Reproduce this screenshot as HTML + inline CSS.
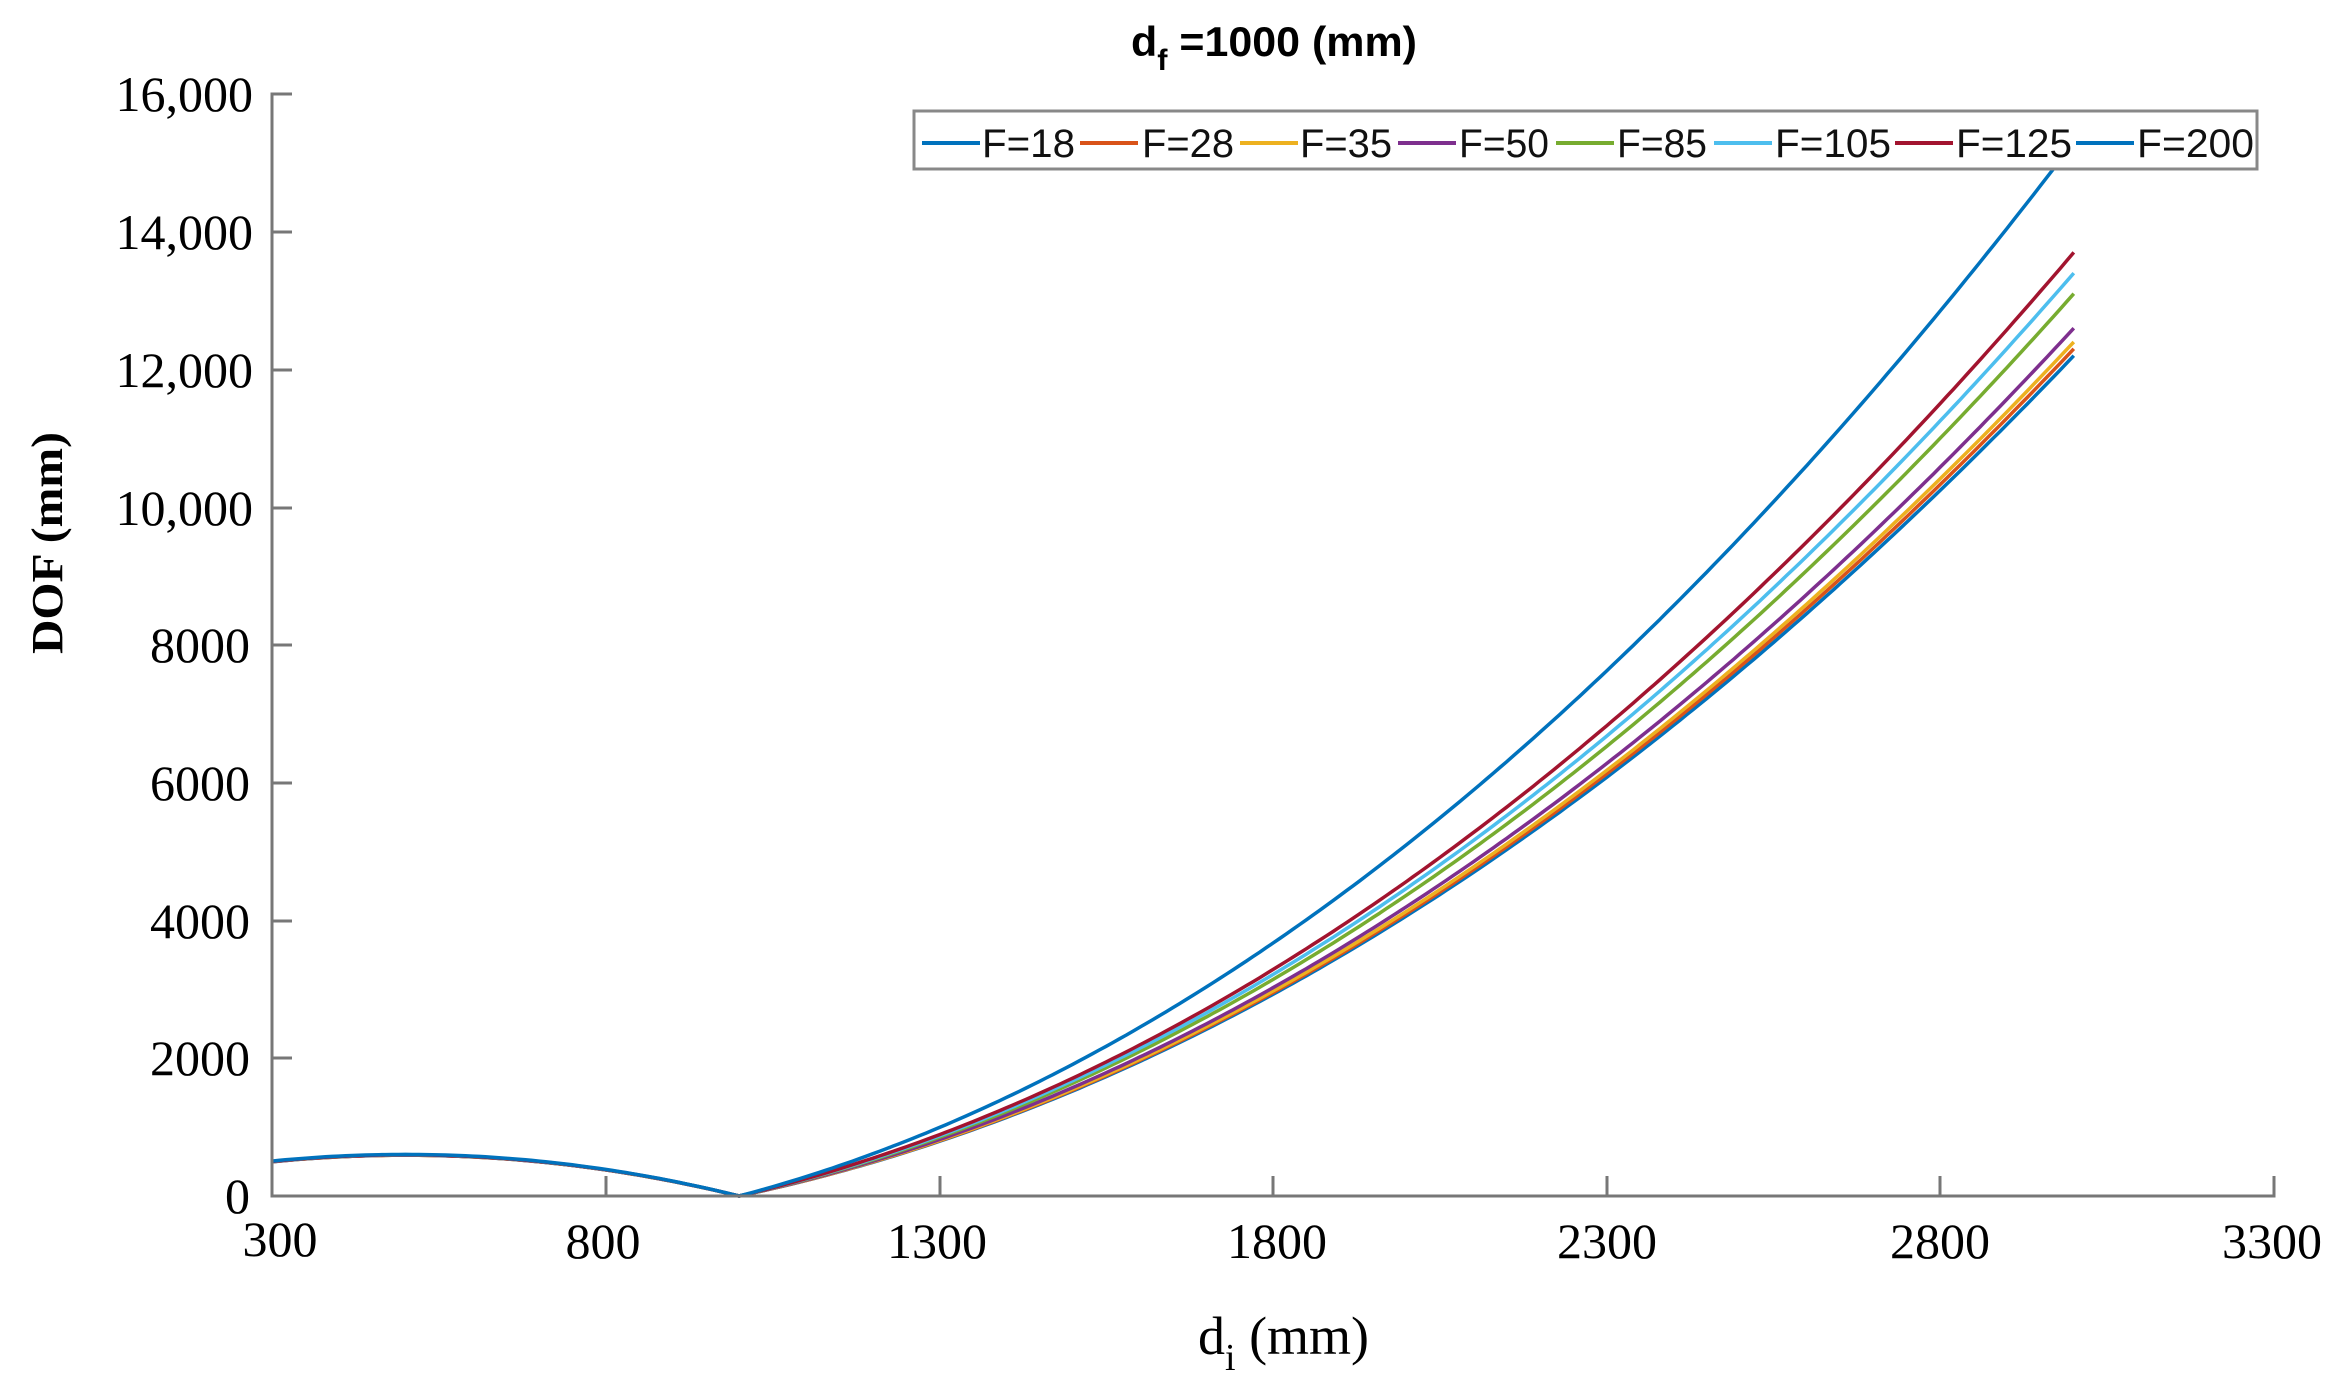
<!DOCTYPE html>
<html><head><meta charset="utf-8"><style>
html,body{margin:0;padding:0;background:#fff;width:2333px;height:1385px;overflow:hidden}
svg{display:block}
</style></head><body>
<svg id="s" width="2333" height="1385" xmlns="http://www.w3.org/2000/svg">
<g id="curves" fill="none" stroke-width="3.5" stroke-linejoin="round"></g>
<g stroke="#777" stroke-width="3" fill="none">
<path d="M292,94 H272 V1196 H2274 V1176"/>
<path d="M272,232 H292 M272,370 H292 M272,508 H292 M272,645 H292 M272,783 H292 M272,921 H292 M272,1058 H292"/>
<path d="M606,1196 V1176 M940,1196 V1176 M1273,1196 V1176 M1607,1196 V1176 M1940,1196 V1176"/>
</g>
<g font-family="Liberation Serif, serif" font-size="50" fill="#000" text-anchor="end">
<text x="253" y="111">16,000</text>
<text x="253" y="249">14,000</text>
<text x="253" y="387">12,000</text>
<text x="253" y="525">10,000</text>
<text x="250" y="662">8000</text>
<text x="250" y="800">6000</text>
<text x="250" y="938">4000</text>
<text x="250" y="1075">2000</text>
<text x="250" y="1213">0</text>
</g>
<g font-family="Liberation Serif, serif" font-size="50" fill="#000" text-anchor="middle">
<text x="280" y="1256">300</text>
<text x="603" y="1258">800</text>
<text x="937" y="1258">1300</text>
<text x="1277" y="1258">1800</text>
<text x="1607" y="1258">2300</text>
<text x="1940" y="1258">2800</text>
<text x="2272" y="1258">3300</text>
</g>
<text x="1198" y="1354" font-family="Liberation Serif, serif" font-size="54">d<tspan font-size="38" dy="16">i</tspan><tspan dy="-16"> (mm)</tspan></text>
<text transform="translate(62,543) rotate(-90)" text-anchor="middle" font-family="Liberation Serif, serif" font-weight="bold" font-size="44" textLength="222" lengthAdjust="spacingAndGlyphs">DOF (mm)</text>
<text x="1131" y="56" font-family="Liberation Sans, sans-serif" font-weight="bold" font-size="42" textLength="286" lengthAdjust="spacingAndGlyphs">d<tspan font-size="30" dy="14">f</tspan><tspan dy="-14"> =1000 (mm)</tspan></text>
<rect x="914" y="111" width="1343" height="58" fill="#fff" stroke="#888" stroke-width="3"/>
<g stroke-width="4">
<line x1="922" y1="143" x2="980" y2="143" stroke="#0072BD"/>
<line x1="1080" y1="143" x2="1138" y2="143" stroke="#D95319"/>
<line x1="1240" y1="143" x2="1298" y2="143" stroke="#EDB120"/>
<line x1="1398" y1="143" x2="1456" y2="143" stroke="#7E2F8E"/>
<line x1="1556" y1="143" x2="1614" y2="143" stroke="#77AC30"/>
<line x1="1714" y1="143" x2="1772" y2="143" stroke="#4DBEEE"/>
<line x1="1895" y1="143" x2="1953" y2="143" stroke="#A2142F"/>
<line x1="2076" y1="143" x2="2134" y2="143" stroke="#0072BD"/>
</g>
<g font-family="Liberation Sans, sans-serif" font-size="40" fill="#111">
<text x="982" y="157" textLength="93" lengthAdjust="spacingAndGlyphs">F=18</text>
<text x="1142" y="157" textLength="92" lengthAdjust="spacingAndGlyphs">F=28</text>
<text x="1300" y="157" textLength="92" lengthAdjust="spacingAndGlyphs">F=35</text>
<text x="1459" y="157" textLength="90" lengthAdjust="spacingAndGlyphs">F=50</text>
<text x="1617" y="157" textLength="90" lengthAdjust="spacingAndGlyphs">F=85</text>
<text x="1775" y="157" textLength="116" lengthAdjust="spacingAndGlyphs">F=105</text>
<text x="1956" y="157" textLength="116" lengthAdjust="spacingAndGlyphs">F=125</text>
<text x="2137" y="157" textLength="117" lengthAdjust="spacingAndGlyphs">F=200</text>
</g>
</svg>
<script>
(function(){
var g=document.getElementById('curves');
var series=[
 ['#0072BD',12200],['#D95319',12300],['#EDB120',12400],['#7E2F8E',12600],
 ['#77AC30',13100],['#4DBEEE',13400],['#A2142F',13700],['#0072BD',15300]];
function X(d){return 272+(d-300)*1001/1500;}
function Y(v){return 1196-v*1102/16000;}
[0,1,2,3,4,5,6,7].forEach(function(i){
  var s=series[i], c=s[1]/6e6, pts=[];
  for(var d=300; d<=3000; d+=10){
    var v;
    if(d<1000){ v=1.1*(1000-d)*d*0.00215*(1+(c-0.002033)*40); }
    else v=(d-1000)*d*c;
    pts.push(X(d).toFixed(1)+','+Y(v).toFixed(1));
  }
  var p=document.createElementNS('http://www.w3.org/2000/svg','polyline');
  p.setAttribute('points',pts.join(' '));
  p.setAttribute('stroke',s[0]);
  g.appendChild(p);
});
})();
</script>
</body></html>
